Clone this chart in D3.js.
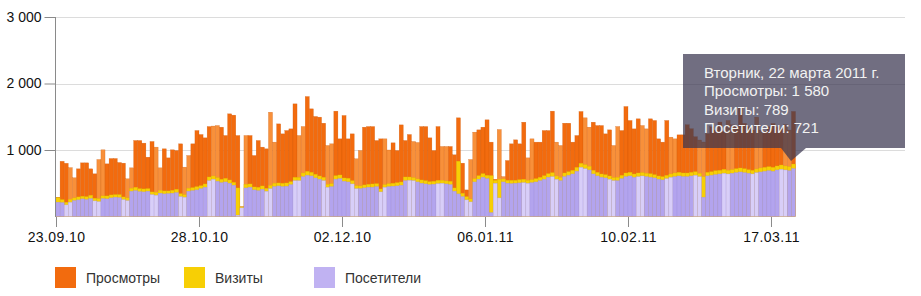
<!DOCTYPE html>
<html><head><meta charset="utf-8">
<script src="https://cdn.jsdelivr.net/npm/d3@7"></script>
<style>
html,body{margin:0;padding:0;background:#fff;}
svg{display:block;font-family:"Liberation Sans",Arial,sans-serif;}
</style></head>
<body><svg id="c" width="921" height="296"></svg>
<script>
const startDate = "23.09.10";
const dayCount = 181;
const views = [290,830,800,735,582,717,807,807,717,642,857,1003,792,872,872,812,802,567,732,1143,1143,1103,892,1128,1043,732,
1018,882,1003,992,1093,742,917,1093,1293,1233,1183,1353,1360,1368,1343,1218,1544,1524,1218,150,1218,1218,917,1143,1043,1018,
1568,1118,1393,1243,1293,1318,1694,1218,1353,1804,1619,1504,1494,1403,1068,1093,1584,1168,1519,1168,1243,868,992,1343,1353,1353,
1143,1168,1168,1000,1108,992,1378,1143,1233,1128,1113,1353,1353,1183,992,1353,1053,1053,1053,928,1484,802,400,857,1268,
1303,1343,1454,1118,560,1308,600,842,1093,1153,1093,1418,882,1168,1118,1118,1293,1293,1584,1118,1068,1403,1403,1118,1218,1579,1484,1343,
1418,1368,1368,1243,1303,1068,1353,1293,1654,1444,1318,1469,1368,1318,1469,1444,1168,1118,1444,1193,1168,1228,1228,
1380,1320,1200,1150,1120,1248,1350,1300,1420,1280,1444,1380,1350,1644,1400,1350,1300,1494,1300,1280,1350,1398,1350,1320,1383,1300,1580];
const visits = [285,255,215,260,280,295,305,300,320,275,270,310,310,325,330,330,295,280,425,440,420,415,420,370,365,395,
385,385,395,410,345,330,425,435,450,465,490,595,610,585,560,575,550,515,430,145,485,490,445,440,460,425,
470,500,505,500,505,525,590,590,655,680,665,635,610,590,485,495,615,625,580,575,540,465,460,475,485,490,
495,415,480,495,500,510,520,595,595,585,565,550,540,525,530,545,545,535,530,430,832,350,300,265,570,
615,645,620,616,545,560,565,545,545,545,555,560,545,555,570,590,615,645,660,610,590,655,675,695,740,800,780,755,
695,665,640,630,610,585,590,620,655,665,640,655,660,650,645,630,610,600,620,640,655,665,655,
655,665,675,650,600,665,675,690,695,710,695,705,720,730,720,705,695,715,730,740,750,740,760,775,760,750,789];
const visitors = [215,210,175,215,240,250,265,255,270,235,225,270,265,280,290,285,255,240,380,390,375,370,380,330,320,350,
340,345,350,360,300,290,380,390,400,420,440,540,560,530,510,520,500,470,20,130,430,440,400,390,410,380,
420,450,460,450,455,480,540,540,600,620,610,580,560,540,440,450,560,570,530,520,490,420,420,430,440,440,
450,370,440,450,455,460,470,540,545,540,520,500,490,480,485,495,500,490,480,380,340,300,250,220,520,
560,590,570,60,500,280,520,500,495,500,505,510,500,510,520,540,560,590,600,560,540,600,620,640,680,740,720,700,
640,610,590,580,560,540,540,570,600,610,590,600,610,600,590,580,560,550,570,590,600,610,600,
600,610,620,600,290,610,620,630,640,650,640,650,660,670,660,650,640,660,670,680,690,680,700,710,700,690,721];
const xTickLabels = ["23.09.10","28.10.10","02.12.10","06.01.11","10.02.11","17.03.11"];
const yTickValues = [1000,2000,3000];
const seriesNames = ["Просмотры","Визиты","Посетители"];
const tooltipLines = ["Вторник, 22 марта 2011 г.","Просмотры: 1 580","Визиты: 789","Посетители: 721"];

const parse = d3.timeParse("%d.%m.%y");
const fmtDate = d3.timeFormat("%d.%m.%y");
const t0 = parse(startDate);
const days = d3.timeDay.range(t0, d3.timeDay.offset(t0, dayCount));
const data = days.map((d,i)=>({d, views:views[i], visits:visits[i], visitors:visitors[i]}));

const svg = d3.select("#c");
const x = d3.scaleTime().domain([t0, d3.timeDay.offset(t0, dayCount)]).range([56, 795.5]);
const y = d3.scaleLinear().domain([0,3000]).range([216.5,17]);
const loc = d3.formatLocale({decimal:",", thousands:"\u00a0", grouping:[3], currency:["",""]});
const fmtY = loc.format(",d");

// grid
svg.append("g").selectAll("line").data(yTickValues).join("line")
  .attr("x1",56).attr("x2",905)
  .attr("y1",d=>Math.round(y(d))+0.5).attr("y2",d=>Math.round(y(d))+0.5)
  .attr("stroke","#dcdcdc").attr("stroke-width",1);

const colors = {
  views:"#f26b0e", viewsLight:"#f8903a",
  visits:"#f7cf05",
  visitors:"#b3a4ee", visitorsLight:"#d8cef8"
};
const wkPurple = d => { const w=d.getDay(); return w===0||w===6; };
const wkOrange = d => { const w=d.getDay(); return w===0||w===1; };

function bars(key, fillFn, strokeCol){
  svg.append("g").selectAll("rect").data(data).join("rect")
    .attr("x",d=>x(d.d))
    .attr("width",d=>x(d3.timeDay.offset(d.d,1))-x(d.d))
    .attr("y",d=>y(d[key]))
    .attr("height",d=>y(0)-y(d[key]))
    .attr("fill",fillFn)
    .attr("stroke",strokeCol).attr("stroke-width",0.4).attr("stroke-opacity",0.6);
}
bars("views", d=>wkOrange(d.d)?colors.viewsLight:colors.views, "#c85405");
bars("visits", d=>colors.visits, "#d9b000");
bars("visitors", d=>wkPurple(d.d)?colors.visitorsLight:colors.visitors, "#9d8ee0");

// y axis
const ya = svg.append("g").attr("transform","translate(55.5,0)")
  .call(d3.axisLeft(y).tickValues(yTickValues).tickSize(11).tickSizeOuter(0).tickPadding(3).tickFormat(d=>fmtY(d)));
ya.select(".domain").attr("stroke","#8a8a8a").attr("d","M0,17V217");
ya.selectAll(".tick line").attr("stroke","#8a8a8a");
ya.selectAll("text").attr("font-size",14).attr("fill","#111").attr("font-family","Liberation Sans, Arial, sans-serif");

// x axis
const xa = svg.append("g").attr("transform","translate(0,217)")
  .call(d3.axisBottom(x).tickValues(xTickLabels.map(parse)).tickSize(10).tickSizeOuter(0).tickPadding(5).tickFormat(fmtDate));
xa.select(".domain").remove();
xa.selectAll(".tick line").attr("stroke","#8a8a8a");
xa.selectAll("text").attr("font-size",14).attr("fill","#111").attr("letter-spacing","0.4px").attr("font-family","Liberation Sans, Arial, sans-serif");

// legend
const legCols = [colors.views, colors.visits, "#c0b2f2"];
const legX = [55,184,314];
const lg = svg.append("g");
seriesNames.forEach((n,i)=>{
  lg.append("rect").attr("x",legX[i]).attr("y",267).attr("width",21).attr("height",21).attr("fill",legCols[i]);
  lg.append("text").attr("x",legX[i]+31).attr("y",283).attr("font-size",14).attr("fill","#333").text(n);
});

// tooltip
const tip = svg.append("g");
tip.append("rect").attr("x",683).attr("y",54).attr("width",222).attr("height",94).attr("fill","rgba(58,54,80,0.72)");
tip.append("path").attr("d","M781,148L806,148L791,161Z").attr("fill","rgba(58,54,80,0.72)");
tooltipLines.forEach((t,i)=>{
  tip.append("text").attr("x",704).attr("y",78+i*18.4).attr("font-size",15).attr("fill","#f2f2f2").text(t);
});
</script></body></html>
